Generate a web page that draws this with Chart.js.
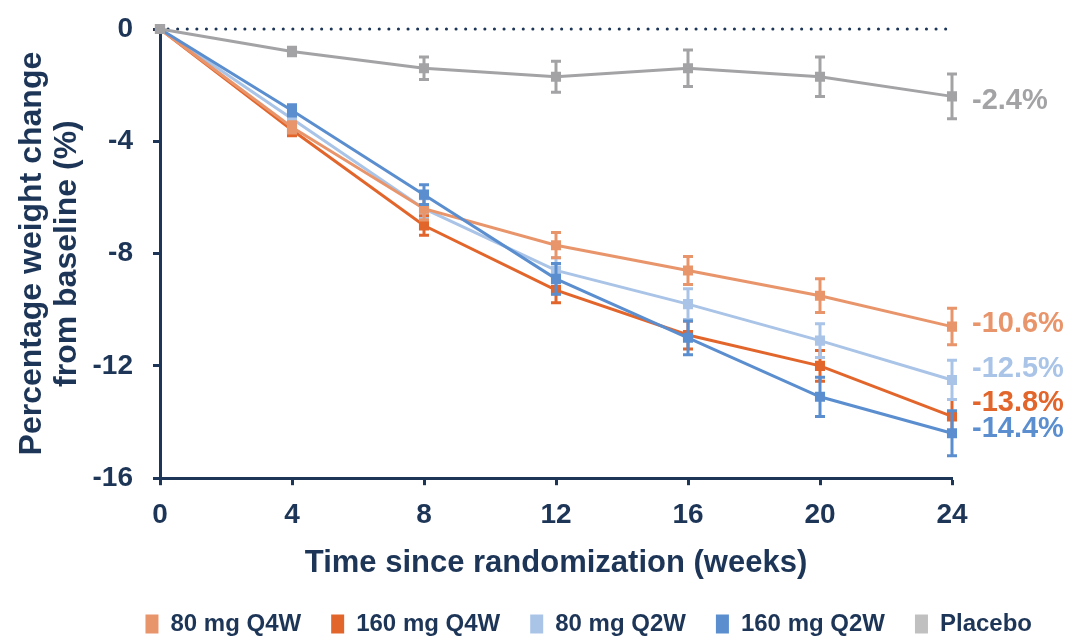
<!DOCTYPE html>
<html>
<head>
<meta charset="utf-8">
<script src="https://cdn.jsdelivr.net/npm/chart.js@4.4.1/dist/chart.umd.min.js"></script>
<style>
  html, body { margin: 0; padding: 0; background: #fff; }
  #wrap { width: 1068px; height: 636px; }
</style>
</head>
<body>
<div id="wrap"><canvas id="chart" width="1068" height="636"></canvas></div>
<script>
// ── Data ────────────────────────────────────────────────────────────────
const weeks = [0, 4, 8, 12, 16, 20, 24];
const seriesNames = ['80 mg Q4W', '160 mg Q4W', '80 mg Q2W', '160 mg Q2W', 'Placebo'];

const q4w80  = [0, -3.5, -6.4, -7.7, -8.6, -9.5, -10.6];
const q4w160 = [0, -3.6, -7.0, -9.3, -10.9, -12.0, -13.8];
const q2w80  = [0, -3.2, -6.4, -8.6, -9.8, -11.1, -12.5];
const q2w160 = [0, -2.9, -5.9, -8.9, -11.0, -13.1, -14.4];
const placebo = [0, -0.8, -1.4, -1.7, -1.4, -1.7, -2.4];

// standard errors (half-length of the whiskers)
const q4w80Err  = [0, 0.2, 0.4, 0.45, 0.5, 0.6, 0.65];
const q4w160Err = [0, 0.2, 0.35, 0.45, 0.5, 0.55, 0.6];
const q2w80Err  = [0, 0.2, 0.35, 0.45, 0.55, 0.6, 0.7];
const q2w160Err = [0, 0.2, 0.35, 0.55, 0.6, 0.7, 0.8];
const placeboErr = [0, 0.15, 0.4, 0.55, 0.65, 0.7, 0.8];

const yTicks = [0, -4, -8, -12, -16];

// ── Styling ─────────────────────────────────────────────────────────────
const NAVY = '#1d3557';
const FONT = "'Liberation Sans', Arial, sans-serif";
const colors = ['#e9956b', '#e2662b', '#a9c4e7', '#5b8ecf', '#a3a3a6'];
const legendColors = ['#e9956b', '#e2662b', '#a9c4e7', '#5b8ecf', '#c0c0c0'];
const drawOrder = [2, 4, 3, 1, 0];          // lower = on top
const endLabelNudge = [-3, -13, -11, -4, 5]; // px, so end labels don't collide

const values = [q4w80, q4w160, q2w80, q2w160, placebo];
const errors = [q4w80Err, q4w160Err, q2w80Err, q2w160Err, placeboErr];

// ── Plugins: zero reference line, error bars, end labels ────────────────
const zeroLine = {
  id: 'zeroLine',
  beforeDatasetsDraw(chart) {
    const { ctx, chartArea, scales } = chart;
    const y = scales.y.getPixelForValue(0);
    ctx.save();
    ctx.strokeStyle = NAVY;
    ctx.lineWidth = 3;
    ctx.lineCap = 'round';
    ctx.setLineDash([0.1, 9.5]);
    ctx.beginPath();
    ctx.moveTo(chartArea.left + 8, y);
    ctx.lineTo(chartArea.right, y);
    ctx.stroke();
    ctx.restore();
  }
};

const errorBars = {
  id: 'errorBars',
  afterDatasetDraw(chart, args) {
    const i = args.index;
    const { ctx, scales } = chart;
    ctx.save();
    ctx.strokeStyle = colors[i];
    ctx.lineWidth = 3;
    args.meta.data.forEach((pt, j) => {
      const e = errors[i][j];
      if (!e) return;
      const v = values[i][j];
      const top = scales.y.getPixelForValue(v + e);
      const bot = scales.y.getPixelForValue(v - e);
      ctx.beginPath();
      ctx.moveTo(pt.x, top); ctx.lineTo(pt.x, bot);
      ctx.moveTo(pt.x - 5, top); ctx.lineTo(pt.x + 5, top);
      ctx.moveTo(pt.x - 5, bot); ctx.lineTo(pt.x + 5, bot);
      ctx.stroke();
    });
    ctx.restore();
  }
};

const endLabels = {
  id: 'endLabels',
  afterDraw(chart) {
    const { ctx, scales } = chart;
    ctx.save();
    ctx.font = `bold 29px ${FONT}`;
    ctx.textBaseline = 'middle';
    ctx.textAlign = 'left';
    values.forEach((vals, i) => {
      const last = vals[vals.length - 1];
      const x = scales.x.getPixelForValue(weeks[weeks.length - 1]) + 20;
      const y = scales.y.getPixelForValue(last) + endLabelNudge[i];
      ctx.fillStyle = colors[i];
      ctx.fillText(last.toFixed(1) + '%', x, y);
    });
    ctx.restore();
  }
};

// ── Chart ───────────────────────────────────────────────────────────────
const datasets = seriesNames.map((name, i) => ({
  label: name,
  data: weeks.map((w, j) => ({ x: w, y: values[i][j] })),
  borderColor: colors[i],
  backgroundColor: legendColors[i],
  pointBackgroundColor: colors[i],
  pointBorderColor: colors[i],
  pointStyle: 'rect',
  pointRadius: 5,
  borderWidth: 3,
  tension: 0,
  clip: false,
  order: drawOrder[i]
}));

const tickGrid = { display: true, drawOnChartArea: false, drawTicks: true, tickLength: 7, tickWidth: 3, tickColor: NAVY };

new Chart(document.getElementById('chart'), {
  type: 'line',
  data: { datasets },
  options: {
    responsive: false,
    animation: false,
    layout: { padding: { left: 15, right: 6, top: 29, bottom: -10 } },
    plugins: {
      tooltip: { enabled: false },
      legend: {
        position: 'bottom',
        align: 'end',
        labels: {
          color: NAVY,
          font: { family: FONT, size: 24, weight: 'bold' },
          boxWidth: 13,
          boxHeight: 19,
          padding: 30,
          generateLabels: () => seriesNames.map((name, i) => ({
            text: name,
            fillStyle: legendColors[i],
            strokeStyle: legendColors[i],
            lineWidth: 0,
            fontColor: NAVY,
            datasetIndex: i
          }))
        }
      }
    },
    scales: {
      x: {
        type: 'linear',
        min: 0, max: 24,
        ticks: {
          stepSize: 4,
          color: NAVY,
          padding: 13,
          font: { family: FONT, size: 28, weight: 'bold' }
        },
        grid: tickGrid,
        border: { display: true, color: NAVY, width: 3 },
        title: {
          display: true,
          text: 'Time since randomization (weeks)',
          color: NAVY,
          font: { family: FONT, size: 31, weight: 'bold' },
          padding: { top: 0, bottom: 0 }
        }
      },
      y: {
        min: -16, max: 0,
        afterBuildTicks: (axis) => { axis.ticks = yTicks.map(v => ({ value: v })); },
        afterFit: (scale) => { scale.width = 145; },
        ticks: {
          color: NAVY,
          padding: 20,
          font: { family: FONT, size: 28, weight: 'bold', lineHeight: 0.5 }
        },
        grid: tickGrid,
        border: { display: true, color: NAVY, width: 3 },
        title: {
          display: true,
          text: ['Percentage weight change', 'from baseline (%)'],
          color: NAVY,
          font: { family: FONT, size: 32, weight: 'bold', lineHeight: 1.08 },
          padding: { top: 0, bottom: 0 }
        }
      },
      // empty right-hand axis that only reserves room for the end labels
      side: {
        type: 'linear',
        position: 'right',
        display: true,
        ticks: { display: false },
        grid: { display: false },
        border: { display: false },
        afterFit: (scale) => { scale.width = 110; }
      }
    }
  },
  plugins: [zeroLine, errorBars, endLabels]
});
</script>
</body>
</html>
